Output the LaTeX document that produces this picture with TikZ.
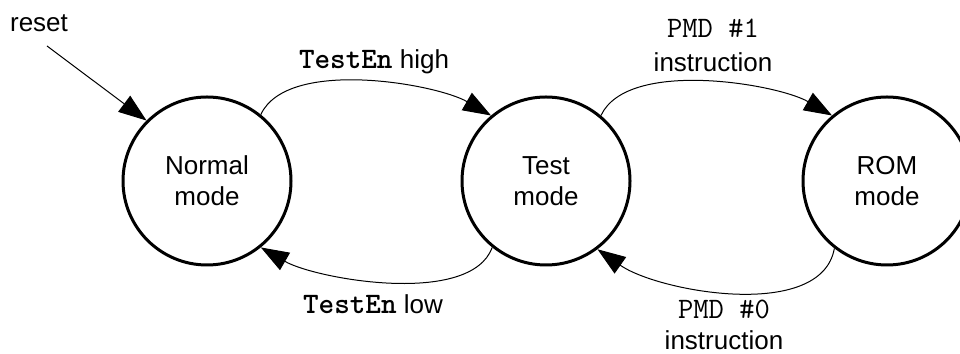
\documentclass[tikz,border=0pt]{standalone}
\usepackage{fontspec}
\setmainfont{Liberation Sans}
\usepackage{tikz}
\usetikzlibrary{arrows.meta}

% Courier-like code text, a little larger than the body text
\newcommand{\codetxt}[1]{{\fontsize{16.9}{17.5}\selectfont\ttfamily #1}}

\tikzset{
    modestate/.style={circle, draw, line width=0.06cm, minimum size=3.36cm,
        align=center, inner sep=0pt},
    modeedge/.style={line width=0.02cm, -{Triangle[length=0.56cm,width=0.4cm]}},
    edgelabel/.style={align=center}
}

\begin{document}
\begin{tikzpicture}[font=\fontsize{14.8}{17.5}\selectfont]
    \useasboundingbox (0,0) rectangle (19.2,7.08);
    % States
    \node[modestate] (normal) at (4.14,3.46) {Normal\\mode};
    \node[modestate] (test) at (10.92,3.46) {Test\\mode};
    \node[modestate] (rom) at (17.74,3.46) {ROM\\mode};
    % Reset entry
    \node (reset) at (0.78,6.62) {reset};
    \coordinate (resetstart) at (0.94,6.16);
    \draw[modeedge] (resetstart) -- (normal.135);
    % Transitions between normal and test mode
    \draw[modeedge] (normal.51) to[out=65,in=150,looseness=0.7] (test.130);
    \draw[modeedge] (test.231) to[out=-110,in=-30,looseness=0.7] (normal.-51);
    % Transitions between test and ROM mode
    \draw[modeedge] (test.50) to[out=65,in=150,looseness=0.7] (rom.130);
    \draw[modeedge] (rom.232) to[out=-100,in=-35,looseness=0.8] (test.-53);
    % Labels
    \node[edgelabel] (highlbl) at (7.48,5.84) {\codetxt{\textbf{TestEn}} high};
    \node[edgelabel] (lowlbl) at (7.46,1.0) {\codetxt{\textbf{TestEn}} low};
    \node[edgelabel, font=\fontsize{14.8}{19.3}\selectfont] (pmdone) at (14.26,6.18)
        {\codetxt{PMD \#1}\\instruction};
    \node[edgelabel] (pmdzero) at (14.48,0.58) {\codetxt{PMD \#0}\\instruction};
\end{tikzpicture}
\end{document}
